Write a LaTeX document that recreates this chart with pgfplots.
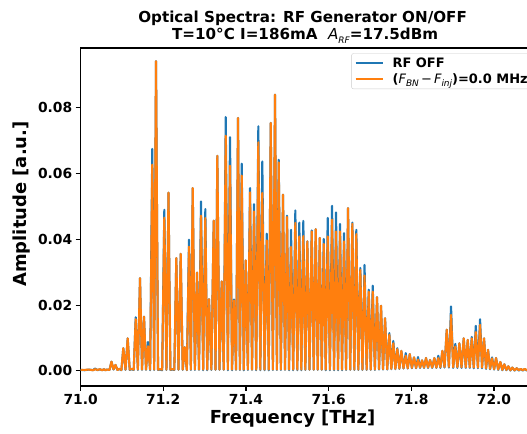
\documentclass[border=0pt]{standalone}
\usepackage{fontspec}
\setmainfont{DejaVu Sans}
\usepackage{pgfplots}
\usepackage{pgfplotstable}
\pgfplotsset{compat=1.18}

\definecolor{mplblue}{HTML}{1F77B4}
\definecolor{mplorange}{HTML}{FF7F0E}
\newcommand{\mi}[1]{{\mdseries\itshape #1}}
\newcommand{\sub}[1]{\raisebox{-0.25em}{\fontsize{9}{9}\selectfont\mdseries\itshape #1}}

% peak / valley values: x [THz], RF OFF, RF ON
\pgfplotstableread{
x b o
71.0000 0.0003 0.0003
71.0100 0.0002 0.0003
71.0200 0.0004 0.0004
71.0300 0.0002 0.0002
71.0348 0.0007 0.0005
71.0410 0.0002 0.0003
71.0469 0.0005 0.0005
71.0520 0.0002 0.0002
71.0566 0.0005 0.0005
71.0600 0.0002 0.0002
71.0639 0.0004 0.0004
71.0700 0.0003 0.0003
71.0747 0.0028 0.0028
71.0796 0.0004 0.0005
71.0844 0.0018 0.0018
71.0892 0.0003 0.0003
71.0941 0.0006 0.0006
71.0987 0.0002 0.0003
71.1033 0.0069 0.0069
71.1086 0.0003 0.0004
71.1139 0.0099 0.0099
71.1188 0.0003 0.0004
71.1236 0.0005 0.0006
71.1285 0.0003 0.0004
71.1333 0.0163 0.0157
71.1385 0.0003 0.0004
71.1437 0.0282 0.0282
71.1486 0.0003 0.0004
71.1534 0.0165 0.0165
71.1582 0.0003 0.0004
71.1630 0.0088 0.0075
71.1682 0.0002 0.0004
71.1734 0.0675 0.0627
71.1779 0.0003 0.0004
71.1824 0.0942 0.0942
71.1873 0.0003 0.0004
71.1921 0.0004 0.0005
71.1973 0.0002 0.0004
71.2025 0.0490 0.0466
71.2076 0.0003 0.0004
71.2126 0.0542 0.0542
71.2172 0.0003 0.0004
71.2218 0.0004 0.0005
71.2267 0.0003 0.0004
71.2315 0.0343 0.0343
71.2368 0.0003 0.0004
71.2421 0.0356 0.0356
71.2470 0.0003 0.0004
71.2518 0.0072 0.0072
71.2570 0.0002 0.0003
71.2622 0.0399 0.0378
71.2667 0.0003 0.0004
71.2712 0.0556 0.0556
71.2764 0.0003 0.0004
71.2816 0.0299 0.0299
71.2864 0.0003 0.0004
71.2912 0.0515 0.0472
71.2965 0.0002 0.0004
71.3017 0.0492 0.0465
71.3062 0.0002 0.0004
71.3106 0.0218 0.0218
71.3163 0.0003 0.0004
71.3220 0.0457 0.0457
71.3264 0.0003 0.0004
71.3307 0.0654 0.0654
71.3360 0.0003 0.0004
71.3413 0.0272 0.0272
71.3462 0.0003 0.0004
71.3510 0.0772 0.0715
71.3562 0.0002 0.0004
71.3614 0.0711 0.0624
71.3663 0.0002 0.0004
71.3711 0.0217 0.0214
71.3760 0.0003 0.0004
71.3808 0.0769 0.0769
71.3853 0.0003 0.0004
71.3897 0.0630 0.0594
71.3946 0.0002 0.0004
71.3994 0.0336 0.0336
71.4046 0.0003 0.0004
71.4098 0.0556 0.0543
71.4147 0.0003 0.0004
71.4195 0.0507 0.0485
71.4247 0.0002 0.0004
71.4299 0.0744 0.0695
71.4347 0.0002 0.0004
71.4395 0.0637 0.0541
71.4449 0.0002 0.0004
71.4502 0.0417 0.0397
71.4551 0.0002 0.0004
71.4599 0.0754 0.0754
71.4651 0.0003 0.0004
71.4703 0.0840 0.0840
71.4748 0.0003 0.0004
71.4792 0.0642 0.0634
71.4844 0.0003 0.0004
71.4896 0.0536 0.0536
71.4945 0.0003 0.0004
71.4993 0.0472 0.0468
71.5042 0.0002 0.0004
71.5090 0.0429 0.0377
71.5142 0.0002 0.0004
71.5194 0.0488 0.0450
71.5242 0.0002 0.0004
71.5290 0.0451 0.0409
71.5339 0.0002 0.0004
71.5387 0.0456 0.0410
71.5436 0.0003 0.0004
71.5484 0.0394 0.0394
71.5537 0.0003 0.0004
71.5590 0.0427 0.0424
71.5639 0.0003 0.0004
71.5687 0.0431 0.0431
71.5736 0.0003 0.0004
71.5784 0.0404 0.0404
71.5833 0.0003 0.0004
71.5881 0.0401 0.0386
71.5929 0.0002 0.0004
71.5977 0.0465 0.0409
71.6030 0.0002 0.0004
71.6082 0.0502 0.0460
71.6130 0.0002 0.0004
71.6178 0.0482 0.0424
71.6227 0.0002 0.0004
71.6275 0.0447 0.0424
71.6324 0.0002 0.0004
71.6372 0.0419 0.0394
71.6421 0.0003 0.0004
71.6469 0.0495 0.0495
71.6521 0.0003 0.0004
71.6573 0.0451 0.0447
71.6621 0.0003 0.0004
71.6669 0.0429 0.0416
71.6718 0.0003 0.0004
71.6766 0.0313 0.0307
71.6817 0.0003 0.0004
71.6868 0.0322 0.0290
71.6919 0.0003 0.0004
71.6969 0.0247 0.0241
71.7018 0.0003 0.0004
71.7066 0.0259 0.0241
71.7118 0.0003 0.0004
71.7170 0.0224 0.0224
71.7219 0.0004 0.0005
71.7267 0.0198 0.0198
71.7316 0.0004 0.0005
71.7364 0.0160 0.0160
71.7416 0.0004 0.0005
71.7468 0.0115 0.0110
71.7516 0.0005 0.0006
71.7564 0.0091 0.0084
71.7613 0.0005 0.0006
71.7661 0.0069 0.0066
71.7710 0.0006 0.0007
71.7758 0.0061 0.0061
71.7811 0.0007 0.0008
71.7864 0.0054 0.0046
71.7913 0.0007 0.0008
71.7961 0.0051 0.0051
71.8013 0.0008 0.0009
71.8065 0.0041 0.0041
71.8114 0.0008 0.0009
71.8162 0.0042 0.0034
71.8211 0.0009 0.0010
71.8259 0.0032 0.0032
71.8307 0.0009 0.0010
71.8355 0.0039 0.0039
71.8404 0.0009 0.0010
71.8452 0.0033 0.0033
71.8504 0.0009 0.0010
71.8556 0.0039 0.0039
71.8605 0.0009 0.0010
71.8653 0.0046 0.0039
71.8702 0.0009 0.0011
71.8750 0.0061 0.0061
71.8803 0.0010 0.0012
71.8856 0.0125 0.0125
71.8908 0.0010 0.0012
71.8960 0.0196 0.0170
71.9012 0.0009 0.0011
71.9064 0.0082 0.0074
71.9113 0.0009 0.0011
71.9161 0.0084 0.0084
71.9214 0.0009 0.0011
71.9267 0.0099 0.0099
71.9316 0.0009 0.0011
71.9364 0.0094 0.0094
71.9413 0.0009 0.0011
71.9461 0.0103 0.0099
71.9510 0.0008 0.0010
71.9558 0.0137 0.0118
71.9610 0.0008 0.0010
71.9662 0.0157 0.0140
71.9710 0.0008 0.0010
71.9758 0.0099 0.0099
71.9807 0.0006 0.0008
71.9855 0.0064 0.0064
71.9904 0.0005 0.0006
71.9952 0.0041 0.0038
72.0001 0.0004 0.0005
72.0049 0.0039 0.0039
72.0101 0.0003 0.0004
72.0153 0.0027 0.0027
72.0201 0.0002 0.0003
72.0249 0.0020 0.0020
72.0298 0.0002 0.0003
72.0346 0.0014 0.0014
72.0395 0.0001 0.0002
72.0443 0.0010 0.0010
72.0496 0.0001 0.0002
72.0549 0.0008 0.0008
72.0598 0.0001 0.0002
72.0646 0.0006 0.0006
72.0695 0.0001 0.0002
72.0743 0.0006 0.0006
72.0792 0.0001 0.0002
72.0840 0.0005 0.0005
72.0892 0.0001 0.0002
72.0944 0.0004 0.0004
72.0993 0.0001 0.0002
72.1041 0.0004 0.0004
72.1090 0.0001 0.0002
72.1138 0.0003 0.0003
}\spectrum

\begin{document}
\begin{tikzpicture}[x=1bp,y=1bp]
  % page = the visible part of the figure (axis box runs past the right edge)
  \useasboundingbox (-80.6,-48) rectangle (446.4,386);
  \begin{axis}[
      scale only axis,
      width=458.9bp, height=338bp,
      xmin=71.0, xmax=72.11,
      ymin=-0.0046, ymax=0.0982,
      axis line style={line width=1.1bp},
      xtick={71.0,71.2,71.4,71.6,71.8,72.0},
      ytick={0,0.02,0.04,0.06,0.08},
      xtick pos=bottom, ytick pos=left,
      tick align=outside,
      major tick length=4.9bp,
      every tick/.style={black, line width=1.1bp},
      scaled x ticks=false, scaled y ticks=false,
      xticklabel style={/pgf/number format/.cd, fixed, fixed zerofill, precision=1},
      yticklabel style={/pgf/number format/.cd, fixed, fixed zerofill, precision=2},
      /pgf/number format/assume math mode=true,
      tick label style={font=\fontsize{13.9}{16}\selectfont\bfseries},
      legend style={
        at={(0.590,0.9843)}, anchor=north west,
        draw=black!20, rounded corners=2bp,
        fill=white, fill opacity=0.8, text opacity=1,
        font=\fontsize{13}{15}\selectfont\bfseries,
        inner xsep=3bp, inner ysep=2bp,
        row sep=1bp,
        nodes={inner xsep=1bp},
        /tikz/every odd column/.append style={column sep=8bp},
      },
      legend cell align=left,
      legend image code/.code={\draw[#1] (0bp,0bp) -- (27bp,0bp);},
    ]
    \addplot[mplblue, line width=2.1bp, line join=round] table[x=x, y=b] {\spectrum};
    \addlegendentry{RF OFF}
    \addplot[mplorange, line width=2.1bp, line join=round] table[x=x, y=o] {\spectrum};
    \addlegendentry{(\mi{F}\sub{BN}\,{\mdseries −}\,\mi{F}\sub{inj})=0.0 MHz}
  \end{axis}
  % title and axis labels
  \node[anchor=base, font=\fontsize{15.2}{17}\selectfont\bfseries] at (222,363.3)
    {Optical Spectra: RF Generator ON/OFF};
  \node[anchor=base, font=\fontsize{15.2}{17}\selectfont\bfseries] at (224.5,346.7)
    {T=10°C I=186mA\ \ \mi{A}\sub{RF}=17.5dBm};
  \node[anchor=base, font=\fontsize{18}{20}\selectfont\bfseries] at (212,-38)
    {Frequency [THz]};
  \node[anchor=base, rotate=90, font=\fontsize{18}{20}\selectfont\bfseries] at (-54,182)
    {Amplitude [a.u.]};
\end{tikzpicture}
\end{document}
